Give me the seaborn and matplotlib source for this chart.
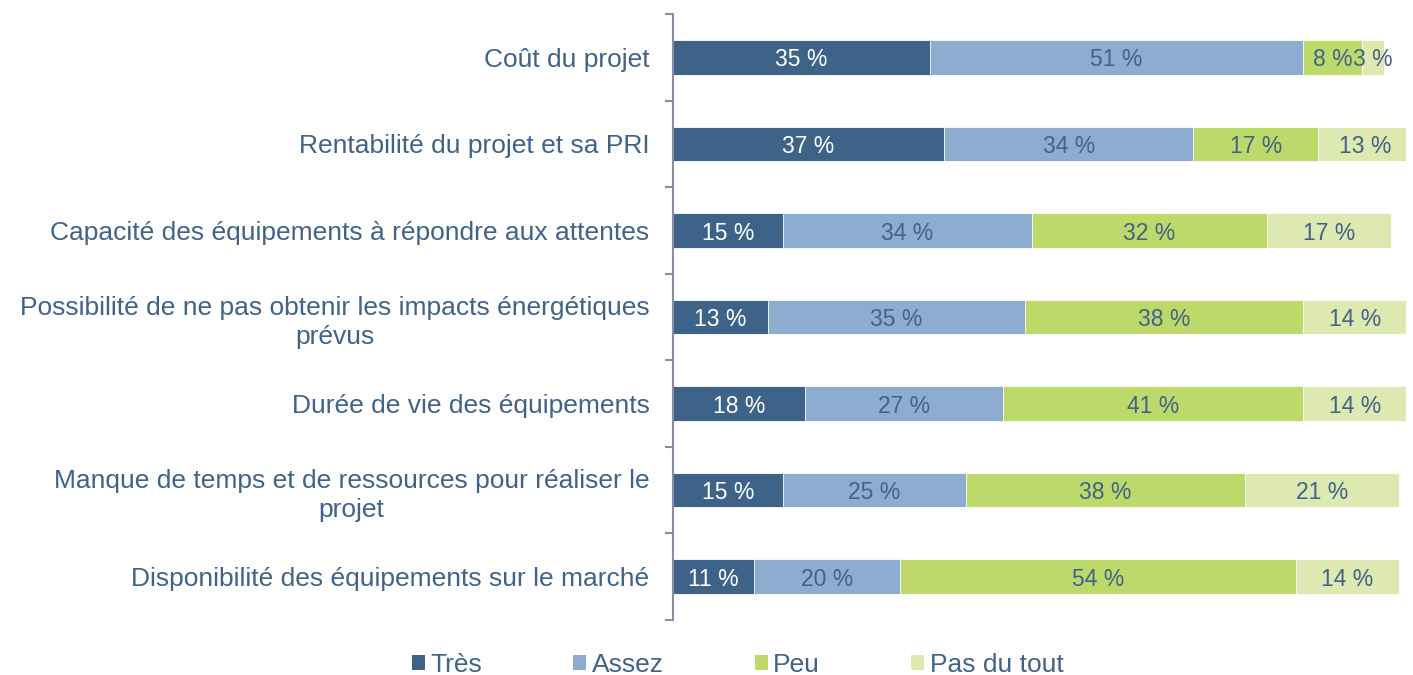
import numpy as np
import pandas as pd
import matplotlib
matplotlib.use("Agg")
import matplotlib.pyplot as plt
import seaborn as sns
from matplotlib.patches import Patch

# Données
categories = [
    "Coût du projet",
    "Rentabilité du projet et sa PRI",
    "Capacité des équipements à répondre aux attentes",
    "Possibilité de ne pas obtenir les impacts énergétiques\nprévus",
    "Durée de vie des équipements",
    "Manque de temps et de ressources pour réaliser le\nprojet",
    "Disponibilité des équipements sur le marché",
]
tres = [35, 37, 15, 13, 18, 15, 11]
assez = [51, 34, 34, 35, 27, 25, 20]
peu = [8, 17, 32, 38, 41, 38, 54]
pas_du_tout = [3, 13, 17, 14, 14, 21, 14]
series_names = ["Très", "Assez", "Peu", "Pas du tout"]

colors = ["#3E6389", "#8DADD0", "#BDD96A", "#DDE9B1"]
text_colors = ["white", "#416289", "#416289", "#416289"]
label_color = "#416289"

sns.set_style("white")
plt.rcParams["font.family"] = ["Liberation Sans", "DejaVu Sans"]

df = pd.DataFrame({"categorie": categories, "Très": tres, "Assez": assez,
                   "Peu": peu, "Pas du tout": pas_du_tout})
cum = df[series_names].cumsum(axis=1)

fig = plt.figure(figsize=(14.13, 6.75), dpi=100)
ax = fig.add_axes([0.4763, 0.0815, 0.5187, 0.8975])

# barres empilées : on trace les cumuls du plus grand au plus petit
for name, col in reversed(list(zip(series_names, colors))):
    sns.barplot(data=cum.assign(categorie=categories), x=name, y="categorie",
                color=col, width=0.4, orient="h", ax=ax,
                edgecolor="white", linewidth=0.6, saturation=1)

# étiquettes de valeurs
for i, row in df.iterrows():
    left = 0
    for name, tc in zip(series_names, text_colors):
        v = row[name]
        ax.text(left + v / 2, i, f"{v} %", ha="center", va="center_baseline",
                color=tc, fontsize=16.5)
        left += v

ax.set_xlim(0, 100)
ax.set_ylim(6.5, -0.5)
ax.set_xlabel("")
ax.set_ylabel("")
ax.set_xticks([])
ax.set_yticks(range(len(categories)))
ax.set_yticklabels(categories, fontsize=19, color=label_color,
                   multialignment="center", linespacing=1.3)
ax.set_yticks(np.arange(-0.5, 7, 1), minor=True)
ax.tick_params(axis="y", which="major", length=0, pad=17)
ax.tick_params(axis="y", which="minor", length=6, width=1.5,
               color="#8C8CA2", left=True)
for s in ["top", "right", "bottom"]:
    ax.spines[s].set_visible(False)
ax.spines["left"].set_color("#8C8CA2")
ax.spines["left"].set_linewidth(1.5)

handles = [Patch(facecolor=c, edgecolor="none") for c in colors]
fig.legend(handles, series_names, loc="center", bbox_to_anchor=(0.522, 0.015),
           ncol=4, frameon=False, fontsize=19, handlelength=0.5,
           handleheight=0.5, handletextpad=0.2, columnspacing=3.45,
           labelcolor=label_color)

fig.savefig("out.png", dpi=100)
